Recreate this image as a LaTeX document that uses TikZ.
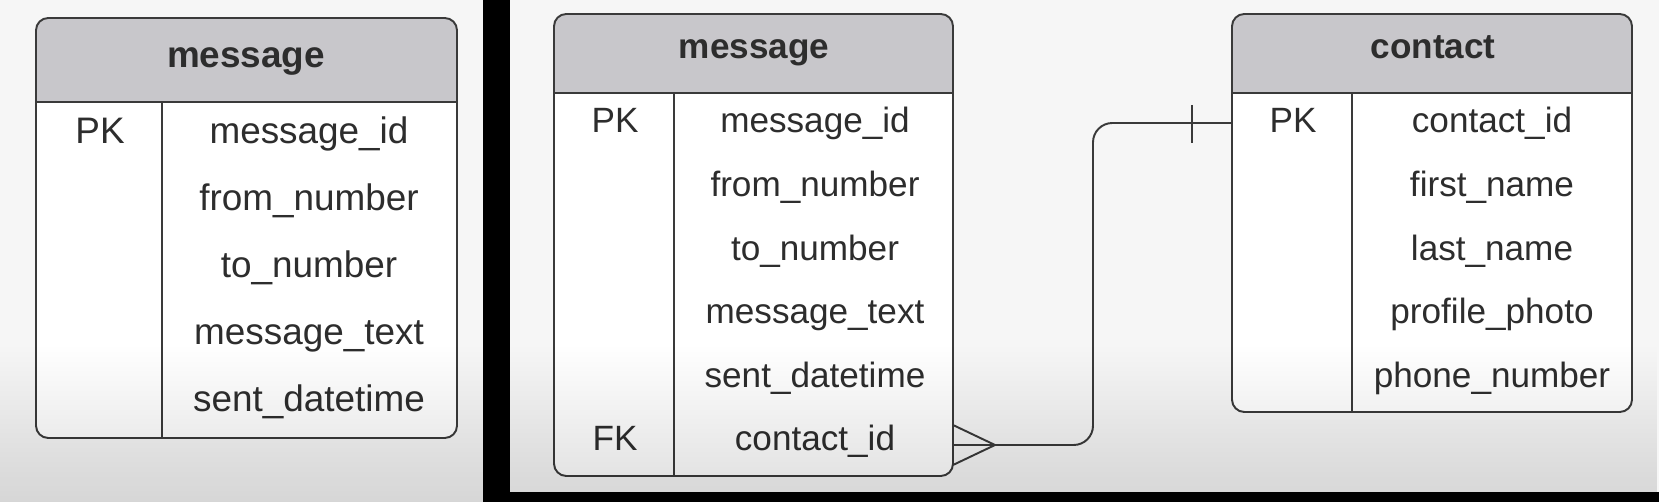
\documentclass[tikz,border=0pt]{standalone}
\usepackage{fontspec}
\setmainfont{Liberation Sans}
\usetikzlibrary{fadings}

\definecolor{linec}{RGB}{58,58,58}
\definecolor{txt}{RGB}{45,45,45}
\definecolor{hdrfill}{RGB}{200,199,203}
\definecolor{bgtop}{RGB}{246,246,246}

\tikzfading[name=fadedown, top color=transparent!100, bottom color=transparent!0]

\tikzset{
	tbl/.style={draw=linec, line width=1.1pt, rounded corners=7pt},
	rel/.style={draw=linec, line width=1.1pt},
	hdr/.style={anchor=base, text=txt, font=\bfseries\fontsize{20}{24}\selectfont},
	fld/.style={anchor=base, text=txt, font=\fontsize{20}{24}\selectfont},
	big/.style={font=\fontsize{21}{25}\selectfont},
	bigb/.style={font=\bfseries\fontsize{21}{25}\selectfont},
}

\begin{document}
\begin{tikzpicture}[x=0.02cm, y=-0.02cm]
	\useasboundingbox (0,0) rectangle (1659,502);
	\fill[bgtop] (0,0) rectangle (1659,502);

	% the three tables: name / corners / header line / key column
	\foreach \nm/\xa/\ya/\xb/\yb/\hb/\dv in {L/36/18/457/438/102/162, m/554/14/953/476/93/674, c/1232/14/1632/412/93/1352}{
		\coordinate (\nm-nw) at (\xa,\ya);
		\coordinate (\nm-se) at (\xb,\yb);
		\fill[white, rounded corners=7pt] (\nm-nw) rectangle (\nm-se);
		\begin{scope}
			\clip[rounded corners=7pt] (\nm-nw) rectangle (\nm-se);
			\fill[hdrfill] (\nm-nw) rectangle (\xb,\hb);
		\end{scope}
		\draw[rel] (\xa,\hb) -- (\xb,\hb) (\dv,\hb) -- (\dv,\yb);
		\draw[tbl] (\nm-nw) rectangle (\nm-se);
	}

	% left: message
	\node[hdr, bigb] (L-h) at (246,68) {message};
	\node[fld, big] (L-pk) at (100,144) {PK};
	\foreach \f [count=\i] in {message\_id, from\_number, to\_number, message\_text, sent\_datetime}
		\node[fld, big] (L-\i) at (309,{144+67*(\i-1)}) {\f};

	% right: message
	\node[hdr] (m-h) at (754,59) {message};
	\node[fld] (m-pk) at (615,133) {PK};
	\node[fld] (m-fk) at (615,451) {FK};
	\foreach \f [count=\i] in {message\_id, from\_number, to\_number, message\_text, sent\_datetime, contact\_id}
		\node[fld] (m-\i) at (815,{133+63.6*(\i-1)}) {\f};

	% right: contact
	\node[hdr] (c-h) at (1433,59) {contact};
	\node[fld] (c-pk) at (1293,133) {PK};
	\foreach \f [count=\i] in {contact\_id, first\_name, last\_name, profile\_photo, phone\_number}
		\node[fld] (c-\i) at (1492,{133+63.6*(\i-1)}) {\f};

	% relationship: many messages -- one contact
	\draw[rel, rounded corners=11pt] (m-se |- 0,445) -- (1093,445) |- (c-nw |- 0,123);
	\draw[rel] (m-se |- 0,425) -- (995,445) -- (m-se |- 0,465);
	\draw[rel] (1192,105) -- (1192,143);

	% shading toward the bottom
	\fill[black, fill opacity=0.13, path fading=fadedown] (0,345) rectangle (1659,502);

	% dark frame bits
	\fill[black] (483,0) rectangle (510,502);
	\fill[black] (510,492) rectangle (1659,502);
\end{tikzpicture}
\end{document}
